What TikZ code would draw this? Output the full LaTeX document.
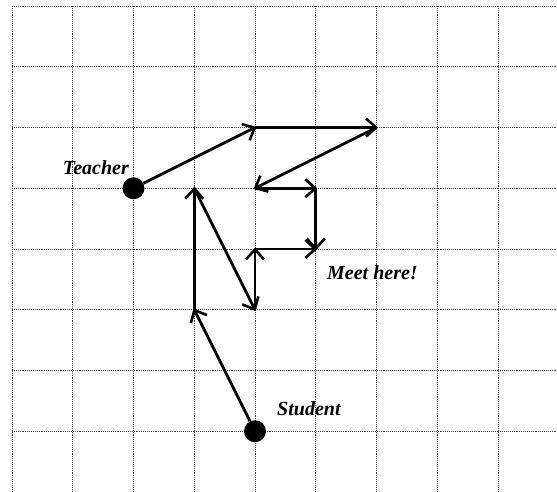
\documentclass[tikz,border=0pt]{standalone}
\usepackage{fontspec}
\setmainfont{Liberation Serif}
\usetikzlibrary{arrows.meta}
\tikzset{
  gridline/.style={black!75, line width=0.9pt, densely dotted},
  move/.style={line width=2.8pt, -{Straight Barb[length=10pt,width=18pt,line width=2.6pt]}, shorten >=-1.5pt},
  dot/.style={circle, fill=black, inner sep=0pt, minimum size=22pt},
  lbl/.style={font=\bfseries\itshape\fontsize{20}{24}\selectfont, inner sep=0pt}
}
\begin{document}
\begin{tikzpicture}[x=1pt,y=-1pt]
\useasboundingbox (0,0) rectangle (557,492);
% grid
\foreach \i in {0,...,8} {
  \draw[gridline] ({12+60.75*\i},6) -- ({12+60.75*\i},492);
}
\foreach \j in {0,...,7} {
  \draw[gridline] (12,{6+60.75*\j}) -- (557,{6+60.75*\j});
}
% grid points
\foreach \i in {2,...,6} {
  \foreach \j in {2,...,7} {
    \coordinate (p\i\j) at ({12+60.75*\i},{6+60.75*\j});
  }
}
\node[dot] (teacher) at (p23) {};
\node[dot] (student) at (p47) {};
\node[lbl, anchor=base east] (tlabel) at (129,175) {Teacher};
\node[lbl, anchor=base west] (mlabel) at (327,279) {Meet here!};
\node[lbl, anchor=base west] (slabel) at (277,415) {Student};
% teacher path
\draw[move] (teacher) -- (p42);
\draw[move] (p42) -- (p62);
\draw[move] (p62) -- (p43);
\draw[move] (p43) -- (p53);
\draw[move] (p53) -- (p54);
% student path
\draw[move] (student) -- (p35);
\draw[move] (p35) -- (p33);
\draw[move] (p33) -- (p45);
\draw[move] (p45) -- (p44);
\draw[move] (p44) -- (p54);
\end{tikzpicture}
\end{document}
